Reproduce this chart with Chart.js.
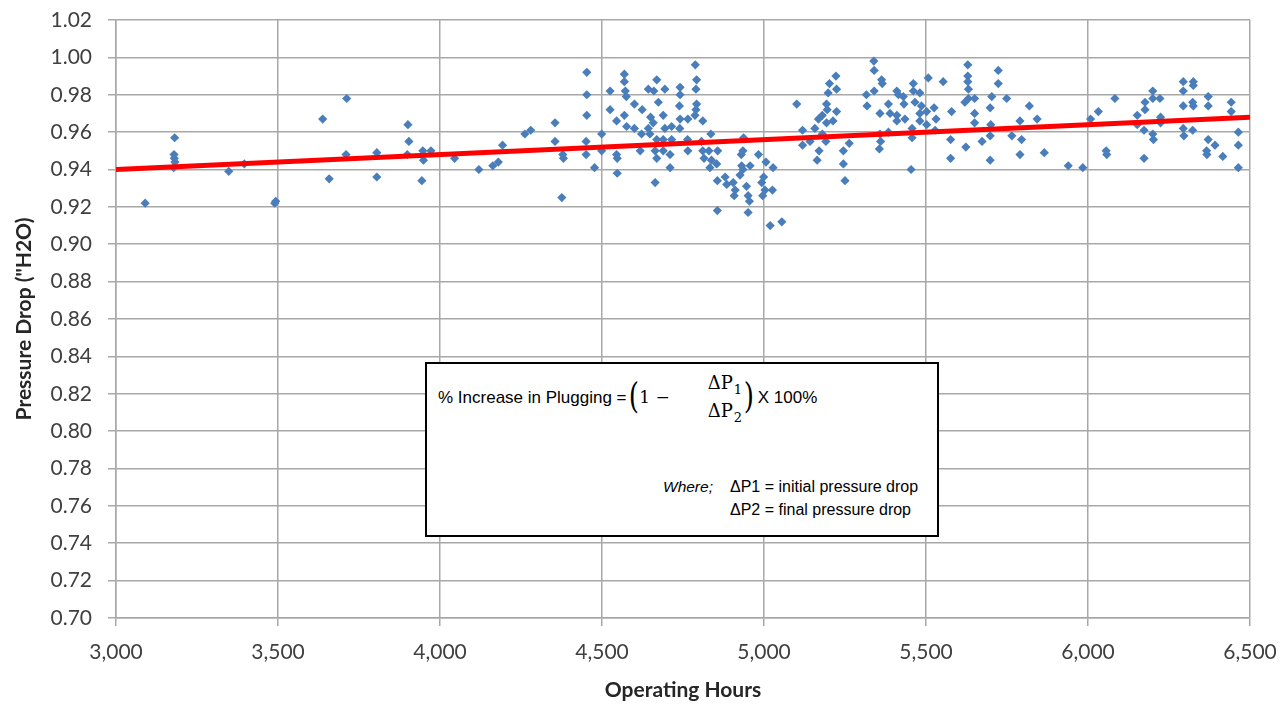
<!DOCTYPE html>
<html>
<head>
<meta charset="utf-8">
<script src="https://cdn.jsdelivr.net/npm/chart.js@4.4.1/dist/chart.umd.min.js"></script>
<style>
  html, body { margin: 0; padding: 0; background: #fff; }
  #wrap { position: relative; width: 1282px; height: 705px; }
  #c { position: absolute; left: 0; top: 0; }
  #box { position: absolute; left: 425px; top: 362px; width: 514px; height: 175px; box-sizing: border-box;
         border: 2px solid #000; background: #fff; }
  .t { position: absolute; white-space: nowrap; color: #000; line-height: 1; }
  .sans { font-family: "Liberation Sans", Arial, sans-serif; }
  .serif { font-family: "DejaVu Serif", "Liberation Serif", serif; }
  .sub { font-size: 13px; position: relative; top: 5px; margin-left: 1px; }
  #formula { position: absolute; left: 438px; top: 372px; height: 50px; display: flex; align-items: center;
             white-space: nowrap; color: #000; }
  #formula > * { line-height: 1; }
  .paren { font-size: 35px; display: inline-block; transform: scaleX(0.75); position: relative; top: -1px; }
  .frac { display: inline-flex; flex-direction: column; align-items: center; font-size: 18px; }
  .frac > span { line-height: 1; display: block; }
</style>
</head>
<body>
<div id="wrap">
  <canvas id="c" width="1282" height="705"></canvas>
  <div id="box"></div>
  <div id="formula">
    <span class="sans" style="font-size:17px;">% Increase in Plugging =</span>
    <span class="serif paren" style="margin-left:0px;">(</span>
    <span class="serif" style="font-size:17px; margin-left:-1px;">1 −</span>
    <span class="serif frac" style="margin-left:38px;">
      <span style="margin-bottom:10px;">ΔP<span class="sub">1</span></span>
      <span>ΔP<span class="sub">2</span></span>
    </span>
    <span class="serif paren" style="margin-left:0px;">)</span>
    <span class="sans" style="font-size:17px; margin-left:2px;">X 100%</span>
  </div>
  <div class="t sans" style="left:663px; top:479px; font-size:15.5px; font-style:italic;">Where;</div>
  <div class="t sans" style="left:730px; top:479px; font-size:16px;">ΔP1 = initial pressure drop</div>
  <div class="t sans" style="left:730px; top:502px; font-size:16px;">ΔP2 = final pressure drop</div>
</div>
<script>
const operatingHours = [
  3090,3181,3179,3180,3182,3178,3348,3396,3490,3493,3638,3712,3710,3658,3805,3805,3901,3904,3899,3947,
  3949,3944,3972,4045,4120,4163,4180,4193,4262,4280,4355,4355,4379,4381,4376,4453,4453,4453,4451,4451,
  4477,4499,4499,4525,4525,4545,4545,4547,4547,4569,4569,4572,4575,4569,4576,4600,4600,4624,4622,4618,
  4643,4660,4669,4674,4650,4643,4658,4648,4669,4664,4669,4664,4694,4689,4694,4689,4689,4715,4715,4710,
  4710,4741,4741,4739,4741,4740,4765,4764,4765,4788,4792,4790,4792,4790,4787,4811,4807,4811,4815,4836,
  4830,4838,4833,4857,4854,4856,4856,4880,4885,4905,4908,4911,4937,4935,4930,4931,4935,4926,4946,4951,
  4955,4951,4957,4983,4999,4993,5003,4996,5006,5028,5026,5019,5055,5101,5119,5119,5142,5157,5164,5170,
  5168,5180,5193,5198,5202,5222,5224,5224,5193,5195,5213,5191,5180,5245,5245,5250,5263,5316,5318,5339,
  5340,5340,5363,5365,5358,5358,5360,5356,5384,5389,5384,5410,5415,5410,5410,5430,5432,5435,5461,5461,
  5466,5457,5457,5454,5481,5481,5486,5481,5502,5507,5502,5525,5531,5528,5553,5579,5576,5576,5623,5620,
  5629,5629,5629,5631,5631,5650,5650,5650,5673,5698,5698,5700,5698,5703,5723,5723,5749,5765,5790,5795,
  5790,5819,5843,5865,5939,5984,6008,6032,6056,6058,6083,6152,6152,6176,6176,6173,6173,6200,6200,6222,
  6200,6202,6224,6224,6294,6294,6294,6294,6296,6325,6325,6323,6325,6323,6371,6371,6371,6392,6366,6367,
  6416,6442,6442,6464,6464,6464
];
const pressureDrop = [
  0.922,0.957,0.948,0.946,0.944,0.941,0.939,0.943,0.922,0.923,0.967,0.978,0.948,0.935,0.949,0.936,0.964,0.955,0.948,0.950,
  0.945,0.934,0.950,0.946,0.940,0.942,0.944,0.953,0.959,0.961,0.965,0.955,0.948,0.946,0.925,0.992,0.980,0.969,0.955,0.948,
  0.941,0.959,0.950,0.982,0.972,0.966,0.948,0.946,0.938,0.991,0.987,0.982,0.979,0.969,0.963,0.975,0.962,0.972,0.959,0.950,
  0.983,0.982,0.988,0.976,0.968,0.962,0.965,0.959,0.956,0.950,0.946,0.933,0.983,0.969,0.962,0.956,0.950,0.963,0.956,0.948,
  0.941,0.984,0.980,0.974,0.967,0.962,0.967,0.956,0.950,0.996,0.988,0.983,0.975,0.972,0.969,0.966,0.955,0.950,0.946,0.959,
  0.950,0.945,0.941,0.950,0.943,0.934,0.918,0.936,0.932,0.933,0.926,0.929,0.957,0.950,0.948,0.942,0.940,0.937,0.931,0.926,
  0.923,0.917,0.942,0.948,0.936,0.933,0.929,0.926,0.944,0.941,0.929,0.910,0.912,0.975,0.961,0.953,0.955,0.962,0.945,0.950,
  0.967,0.969,0.975,0.981,0.986,0.990,0.983,0.971,0.965,0.972,0.966,0.955,0.959,0.950,0.943,0.934,0.954,0.980,0.974,0.998,
  0.993,0.982,0.988,0.986,0.970,0.959,0.955,0.951,0.975,0.970,0.960,0.982,0.980,0.969,0.966,0.979,0.975,0.967,0.986,0.982,
  0.976,0.962,0.957,0.940,0.981,0.970,0.974,0.966,0.971,0.989,0.964,0.973,0.967,0.961,0.987,0.971,0.956,0.946,0.952,0.976,
  0.996,0.990,0.987,0.983,0.978,0.978,0.970,0.965,0.955,0.945,0.958,0.964,0.973,0.979,0.993,0.986,0.978,0.958,0.966,0.956,
  0.948,0.974,0.967,0.949,0.942,0.941,0.967,0.971,0.950,0.948,0.978,0.969,0.964,0.976,0.972,0.961,0.946,0.982,0.978,0.978,
  0.959,0.956,0.968,0.965,0.987,0.982,0.974,0.962,0.958,0.987,0.985,0.976,0.974,0.961,0.979,0.974,0.956,0.953,0.950,0.948,
  0.947,0.976,0.971,0.960,0.953,0.941
];
const trendHours = [3000, 6500];
const trendValues = [0.940, 0.968];
const xTicks = [3000, 3500, 4000, 4500, 5000, 5500, 6000, 6500];
const yMin = 0.70, yMax = 1.02, yStep = 0.02;

const scatterPts = operatingHours.map((h, i) => ({x: h, y: pressureDrop[i]}));
const trendPts = trendHours.map((h, i) => ({x: h, y: trendValues[i]}));

const gridColor = '#a8a8a8';
const tickFont = {family: 'Lato', size: 21};
const titleFont = {family: 'Lato', size: 21, weight: 'bold'};

new Chart(document.getElementById('c'), {
  type: 'scatter',
  data: {
    datasets: [
      { label: 'Pressure Drop', data: scatterPts, pointStyle: 'rectRot', pointRadius: 4.6,
        backgroundColor: '#4a7ebb', borderColor: '#4a7ebb', borderWidth: 0, order: 1 },
      { type: 'line', label: 'Trend', data: trendPts, showLine: true, borderColor: '#ff0000',
        borderWidth: 5, pointRadius: 0, fill: false, order: 0 }
    ]
  },
  options: {
    responsive: false,
    animation: false,
    devicePixelRatio: 1,
    layout: { padding: { top: 20, right: 32, left: 0, bottom: 0 } },
    plugins: { legend: { display: false }, tooltip: { enabled: false } },
    scales: {
      x: {
        type: 'linear', min: xTicks[0], max: xTicks[xTicks.length - 1],
        afterBuildTicks: (s) => { s.ticks = xTicks.map(v => ({value: v})); },
        afterFit: (s) => { s.height = 87; s.paddingLeft = 0; s.paddingRight = 0; },
        grid: { color: gridColor, lineWidth: 1.5, tickLength: 8, drawTicks: true },
        border: { color: gridColor, width: 1.5 },
        ticks: { font: tickFont, color: '#404040', padding: 14, maxRotation: 0,
                 callback: (v) => Number(v).toLocaleString('en-US') },
        title: { display: true, text: 'Operating Hours', font: titleFont, color: '#262626',
                 padding: { top: 0, bottom: 2 } }
      },
      y: {
        type: 'linear', min: yMin, max: yMax,
        ticks: { stepSize: yStep, font: tickFont, color: '#404040', padding: 16,
                 callback: (v) => Number(v).toFixed(2) },
        afterFit: (s) => { s.width = 116; s.paddingTop = 0; s.paddingBottom = 0; },
        grid: { color: gridColor, lineWidth: 1.5, tickLength: 8 },
        border: { color: gridColor, width: 1.5 },
        title: { display: true, text: 'Pressure Drop ("H2O)', font: titleFont, color: '#262626',
                 padding: { top: 12, bottom: 0 } }
      }
    }
  }
});
</script>
</body>
</html>
